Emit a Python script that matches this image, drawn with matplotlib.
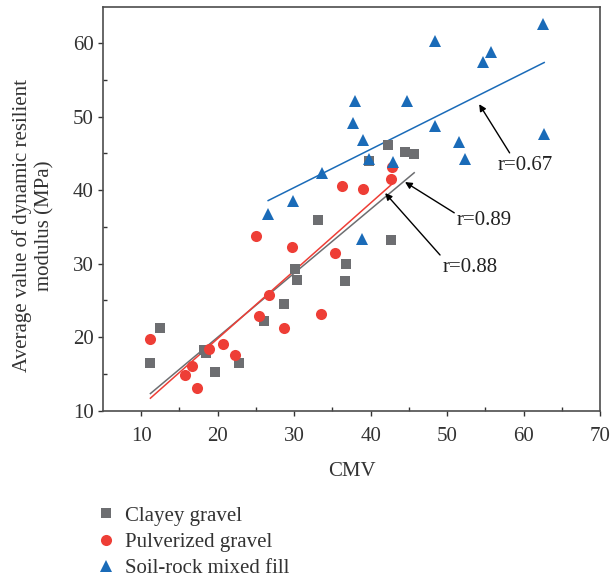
import matplotlib

matplotlib.use("Agg")
import matplotlib.pyplot as plt
import numpy as np

plt.rcParams["font.family"] = ["Liberation Serif", "DejaVu Serif"]

# Clayey gravel
clay_x = [11.2, 12.4, 18.2, 18.5, 19.7, 22.8, 26.1, 28.7, 30.1, 30.4,
          33.1, 36.8, 36.7, 39.8, 42.3, 42.7, 44.5, 45.7]
clay_y = [16.4, 21.2, 18.2, 17.8, 15.2, 16.5, 22.2, 24.5, 29.3, 27.8,
          36.0, 30.0, 27.6, 44.0, 46.1, 33.2, 45.2, 44.9]

# Pulverized gravel
pulv_x = [11.2, 15.7, 16.7, 17.3, 18.8, 20.7, 22.3, 25.0, 25.4, 26.7,
          28.7, 29.7, 33.5, 35.4, 36.3, 39.0, 42.7, 42.8]
pulv_y = [19.7, 14.8, 16.1, 13.1, 18.4, 19.1, 17.5, 33.8, 22.8, 25.7,
          21.2, 32.3, 23.1, 31.5, 40.5, 40.1, 41.5, 43.1]

# Soil-rock mixed fill
soil_x = [26.6, 29.9, 33.7, 38.0, 37.7, 39.0, 38.9, 39.8, 42.9, 44.8,
          48.4, 48.4, 51.6, 52.4, 54.7, 55.8, 62.5, 62.7]
soil_y = [36.8, 38.5, 42.4, 52.2, 49.1, 46.8, 33.4, 44.2, 43.8, 52.2,
          60.3, 48.7, 46.5, 44.3, 57.4, 58.8, 62.6, 47.7]

series = [
    ("Clayey gravel", clay_x, clay_y, "#6d6e71", "s", 6.5),
    ("Pulverized gravel", pulv_x, pulv_y, "#ee3e36", "o", 8),
    ("Soil-rock mixed fill", soil_x, soil_y, "#1a6bb8", "^", 8.5),
]

W, H = 611, 582
fig = plt.figure(figsize=(W / 100, H / 100), dpi=100)
ax = fig.add_axes([103 / W, 1 - 410.5 / H, 497 / W, 404 / H])

handles = []
for label, xs, ys, color, marker, ms in series:
    h, = ax.plot(xs, ys, linestyle="none", marker=marker, markersize=ms,
                 color=color, markeredgewidth=0, label=label, zorder=3)
    handles.append(h)
    # linear fit over the data range
    k, b = np.polyfit(xs, ys, 1)
    xx = np.array([min(xs), max(xs)])
    ax.plot(xx, k * xx + b, color=color, linewidth=1.1, zorder=2)

arrow = dict(arrowstyle="-|>", color="black", lw=1.0, mutation_scale=10,
             shrinkA=0, shrinkB=0)
ax.annotate("r=0.67", xy=(54.2, 51.7), xytext=(56.6, 43.4), fontsize=15,
            va="center", ha="left", color="#222222",
            arrowprops=dict(arrow, relpos=(0.25, 1.0)))
ax.annotate("r=0.89", xy=(44.5, 41.1), xytext=(51.3, 35.9), fontsize=15,
            va="center", ha="left", color="#222222",
            arrowprops=dict(arrow, relpos=(0.0, 0.8)))
ax.annotate("r=0.88", xy=(41.9, 39.6), xytext=(49.4, 29.5), fontsize=15,
            va="center", ha="left", color="#222222",
            arrowprops=dict(arrow, relpos=(0.0, 1.0)))

ax.set_xlim(5, 70)
ax.set_ylim(10, 65)
ax.set_xticks(range(10, 71, 10))
ax.set_yticks(range(10, 61, 10))
ax.set_xticks(range(15, 70, 10), minor=True)
ax.set_yticks(range(15, 65, 10), minor=True)
ax.tick_params(which="major", direction="out", length=3.6, width=1,
               labelsize=15, colors="#333333")
ax.tick_params(axis="x", which="major", pad=8)
ax.tick_params(axis="y", which="major", pad=3)
ax.tick_params(which="minor", direction="in", length=3, width=1,
               colors="#333333")
for sp in ax.spines.values():
    sp.set_color("#4d4d4d")
    sp.set_linewidth(1.2)

fig.text(0.5 * (103 + 600) / W, 1 - 476 / H, "CMV", fontsize=15,
         color="#333333", ha="center", va="baseline")
fig.text(33.5 / W, 1 - 226 / H,
         "Average value of dynamic resilient\nmodulus (MPa)",
         fontsize=15, color="#333333", rotation=90, ha="center",
         va="center", multialignment="center")

fig.legend(handles, [s[0] for s in series], loc="upper left",
           bbox_to_anchor=(95.6 / W, 1 - 506 / H), frameon=False,
           fontsize=15, handlelength=1.0, handletextpad=0.41,
           labelspacing=0.32, borderpad=0, borderaxespad=0,
           labelcolor="#333333")

fig.savefig("out.png", dpi=100)
